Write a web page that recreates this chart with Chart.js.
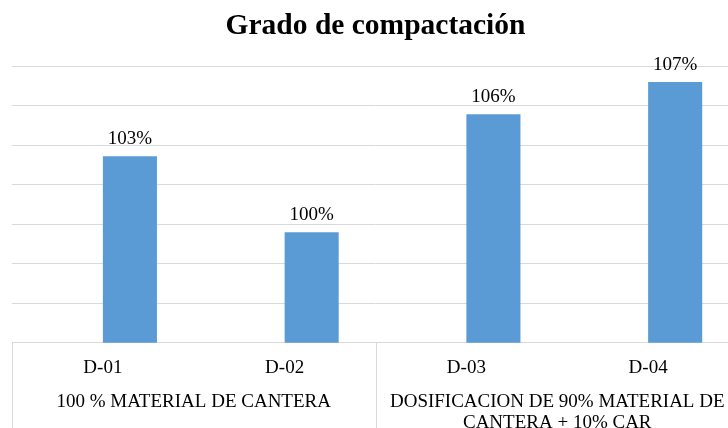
<!DOCTYPE html>
<html lang="es">
<head>
<meta charset="utf-8">
<title>Grado de compactación</title>
<script src="https://cdn.jsdelivr.net/npm/chart.js@4/dist/chart.umd.min.js"></script>
<style>
  html, body { margin: 0; padding: 0; background: #ffffff; overflow: hidden; }
  #grafico { display: block; }
</style>
</head>
<body>
<canvas id="grafico" width="751" height="433"></canvas>
<script>
// Ensayos (categorías del eje horizontal)
const ensayos = ['D-01', 'D-02', 'D-03', 'D-04'];
// Grupos de dosificación y cuántos ensayos abarca cada uno
const grupos = ['100 % MATERIAL DE CANTERA', ['DOSIFICACION DE 90% MATERIAL DE', 'CANTERA + 10% CAR']];
const ensayosPorGrupo = [2, 2];
// Grado de compactación (fracción de la densidad máxima)
const gradoCompactacion = [1.0345, 0.996, 1.0558, 1.0721];
// Serie de referencia sin valores (ocupa el primer lugar de cada grupo de barras)
const serieReferencia = [null, null, null, null];
// Escala vertical
const ejeMin = 0.94;
const ejeMax = 1.08;
const ejePaso = 0.02;

const fuente = '"Liberation Serif", "Times New Roman", serif';
const grisLinea = '#d9d9d9';

const formatoPorcentaje = v => Math.round(v * 100) + '%';

// Etiquetas de valor sobre cada barra
const etiquetasValor = {
  id: 'etiquetasValor',
  afterDatasetsDraw(chart) {
    const ctx = chart.ctx;
    ctx.save();
    ctx.font = '19px ' + fuente;
    ctx.fillStyle = '#000000';
    ctx.textAlign = 'center';
    ctx.textBaseline = 'alphabetic';
    chart.data.datasets.forEach((ds, i) => {
      const meta = chart.getDatasetMeta(i);
      meta.data.forEach((bar, j) => {
        const v = ds.data[j];
        if (v === null || v === undefined) return;
        ctx.fillText(formatoPorcentaje(v), bar.x, bar.y - 12);
      });
    });
    ctx.restore();
  }
};

// Líneas divisorias entre grupos en la zona de categorías
const divisoresGrupo = {
  id: 'divisoresGrupo',
  afterDraw(chart) {
    const x = chart.scales.x;
    const area = chart.chartArea;
    const ctx = chart.ctx;
    const ancho = (x.getPixelForValue(1) - x.getPixelForValue(0));
    const bordes = [];
    let idx = 0;
    bordes.push(x.getPixelForValue(0) - ancho / 2);
    ensayosPorGrupo.forEach(n => {
      idx += n;
      bordes.push(x.getPixelForValue(idx - 1) + ancho / 2);
    });
    ctx.save();
    ctx.strokeStyle = grisLinea;
    ctx.lineWidth = 1;
    bordes.forEach(px => {
      const p = Math.round(px) + 0.5;
      ctx.beginPath();
      ctx.moveTo(p, area.bottom);
      ctx.lineTo(p, chart.height);
      ctx.stroke();
    });
    ctx.restore();
  }
};

new Chart(document.getElementById('grafico'), {
  type: 'bar',
  data: {
    labels: ensayos,
    datasets: [
      {
        label: 'Referencia',
        data: serieReferencia,
        backgroundColor: '#ed7d31'
      },
      {
        label: 'Grado de compactación',
        data: gradoCompactacion,
        backgroundColor: '#5b9bd5',
        borderWidth: 0
      }
    ]
  },
  options: {
    responsive: false,
    animation: false,
    categoryPercentage: 0.595,
    barPercentage: 1.0,
    layout: { padding: { left: 12, right: 12, top: 0, bottom: 0.5 } },
    plugins: {
      legend: { display: false },
      tooltip: { enabled: false },
      title: {
        display: true,
        text: 'Grado de compactación',
        color: '#000000',
        font: { family: fuente, size: 29.5, weight: 'bold', lineHeight: 1.2 },
        padding: { top: 9, bottom: 22 }
      }
    },
    scales: {
      y: {
        min: ejeMin,
        max: ejeMax,
        ticks: { display: false, stepSize: ejePaso },
        grid: { color: grisLinea, drawTicks: false, lineWidth: 1 },
        border: { display: false }
      },
      x: {
        position: 'bottom',
        grid: { display: false, drawTicks: false },
        border: { display: true, color: grisLinea, width: 1 },
        ticks: {
          color: '#000000',
          padding: 13.5,
          font: { family: fuente, size: 19, lineHeight: 1.2 },
          maxRotation: 0,
          autoSkip: false
        }
      },
      x2: {
        type: 'category',
        position: 'bottom',
        labels: grupos,
        offset: true,
        grid: { display: false, drawTicks: false },
        border: { display: false },
        ticks: {
          color: '#000000',
          padding: -1.5,
          font: { family: fuente, size: 19, lineHeight: 1.13 },
          maxRotation: 0,
          autoSkip: false
        }
      }
    }
  },
  plugins: [etiquetasValor, divisoresGrupo]
});
</script>
</body>
</html>
